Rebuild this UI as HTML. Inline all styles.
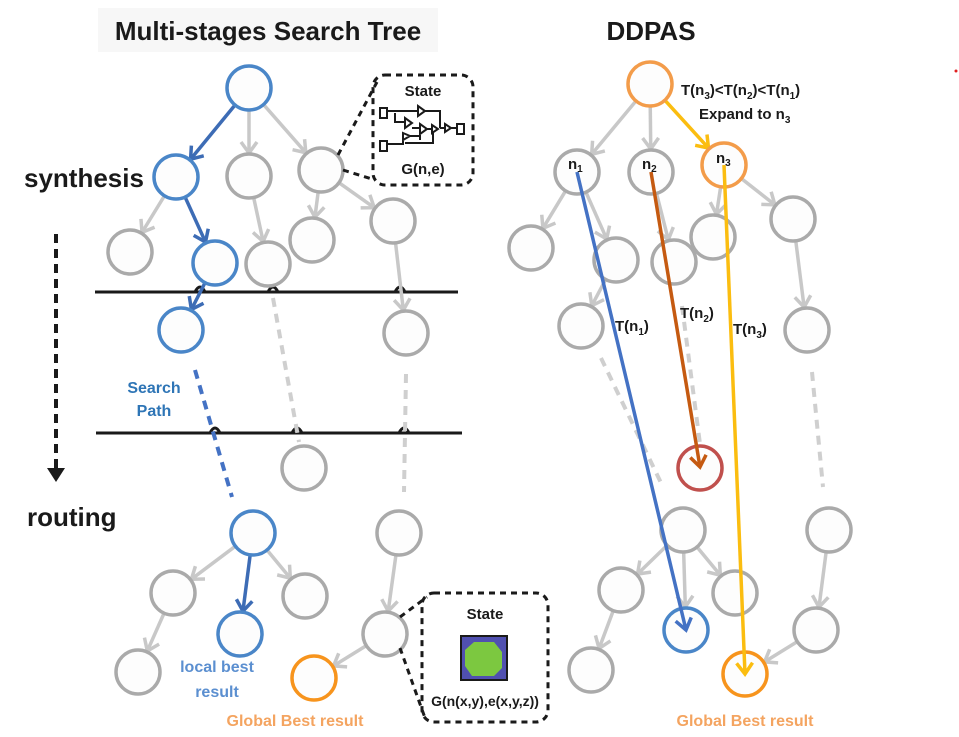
<!DOCTYPE html>
<html><head><meta charset="utf-8"><style>
html,body{margin:0;padding:0;background:#fff;}
svg{display:block;font-family:"Liberation Sans",sans-serif;}
.t{font-weight:bold;}
</style></head><body>
<svg id="s" width="959" height="737" viewBox="0 0 959 737" xmlns="http://www.w3.org/2000/svg">
<rect x="98" y="8" width="340" height="44" fill="#f7f7f7"/>
<text x="268" y="40" text-anchor="middle" class="t" font-size="26" fill="#1a1a1a">Multi-stages Search Tree</text>
<text x="651" y="40" text-anchor="middle" class="t" font-size="26" fill="#1a1a1a">DDPAS</text>
<text x="24" y="187" class="t" font-size="26" fill="#1a1a1a">synthesis</text>
<text x="27" y="526" class="t" font-size="26" fill="#1a1a1a">routing</text>
<circle cx="956" cy="71" r="1.5" fill="#e02020"/>
<!-- vertical dashed arrow -->
<line x1="56" y1="234" x2="56" y2="468" stroke="#1a1a1a" stroke-width="4" stroke-dasharray="9,6"/>
<polygon points="47,468 65,468 56,482" fill="#1a1a1a"/>
<!-- horizontal lines -->
<g stroke="#1a1a1a" stroke-width="3" fill="none">
<line x1="95" y1="292" x2="458" y2="292"/>
<path d="M195,292 Q200,282 205,292 M268,292 Q273,282 278,292 M395,292 Q400,282 405,292"/>
<line x1="96" y1="433" x2="462" y2="433"/>
<path d="M210,433 Q215,423 220,433 M292,433 Q297,423 302,433 M399,433 Q404,423 409,433"/>
</g>
<!-- dashed connectors -->
<g stroke-width="4" fill="none" stroke-dasharray="9,7">
<line x1="195" y1="370" x2="232" y2="497" stroke="#4472c4"/>
<line x1="273" y1="298" x2="299" y2="442" stroke="#cfcfcf"/>
<line x1="406" y1="374" x2="404" y2="492" stroke="#cfcfcf"/>
<line x1="601" y1="358" x2="663" y2="487" stroke="#cfcfcf"/>
<line x1="682" y1="306" x2="700" y2="444" stroke="#cfcfcf"/>
<line x1="812" y1="372" x2="823" y2="487" stroke="#cfcfcf"/>
</g>
<g id="edges"></g>
<g id="nodes"></g>
<g id="long"></g>
<!-- top state box -->
<g fill="none" stroke="#1a1a1a" stroke-width="3" stroke-dasharray="6,5">
<rect x="373" y="75" width="100" height="110" rx="12"/>
<line x1="338" y1="155" x2="377" y2="82"/>
<line x1="343" y1="170" x2="375" y2="180"/>
<rect x="422" y="593" width="126" height="129" rx="12"/>
<line x1="400" y1="617" x2="427" y2="597"/>
<line x1="400" y1="648" x2="425" y2="718"/>
</g>
<text x="423" y="96" text-anchor="middle" class="t" font-size="15" fill="#1a1a1a">State</text>
<text x="423" y="174" text-anchor="middle" class="t" font-size="15" fill="#1a1a1a">G(n,e)</text>
<g stroke="#1a1a1a" stroke-width="2" fill="none">
<rect x="380" y="108" width="7" height="10"/><rect x="380" y="141" width="7" height="10"/><rect x="457" y="124" width="7" height="10"/>
<path d="M387,111 H418 M418,106 L425,111 L418,116 Z M425,111 H440 V128"/>
<path d="M395,113 V122 H405 M405,118 L412,123 L405,128 Z M412,128 H420 M420,124 L427,129 L420,134 Z"/>
<path d="M387,144 H403 V136 M403,133 L410,136 L403,140 Z M410,136 H420 V140 M427,129 H432 M432,125 L438,129 L432,133 Z M440,128 H445 M445,124 L451,128 L445,132 Z M451,128 H457 M433,132 V143 H405"/>
</g>
<text x="485" y="619" text-anchor="middle" class="t" font-size="15" fill="#1a1a1a">State</text>
<rect x="460" y="635" width="48" height="46" fill="#1a1a1a"/>
<rect x="462" y="637" width="44" height="42" fill="#5050b0"/>
<polygon points="474,642 494,642 502,652 502,668 494,676 472,676 465,666 465,650" fill="#7cc840"/>
<text x="485" y="706" text-anchor="middle" class="t" font-size="14" fill="#1a1a1a">G(n(x,y),e(x,y,z))</text>
<!-- labels -->
<text x="154" y="393" text-anchor="middle" class="t" font-size="16" fill="#2e75b6">Search</text>
<text x="154" y="416" text-anchor="middle" class="t" font-size="16" fill="#2e75b6">Path</text>
<text x="217" y="672" text-anchor="middle" class="t" font-size="16" fill="#5b8fd0">local best</text>
<text x="217" y="697" text-anchor="middle" class="t" font-size="16" fill="#5b8fd0">result</text>
<text x="295" y="726" text-anchor="middle" class="t" font-size="16" fill="#f4a460">Global Best result</text>
<text x="745" y="726" text-anchor="middle" class="t" font-size="16" fill="#f4a460">Global Best result</text>
<text x="681" y="95" class="t" font-size="15" fill="#1a1a1a">T(n<tspan font-size="10" dy="4">3</tspan><tspan dy="-4">)&lt;T(n</tspan><tspan font-size="10" dy="4">2</tspan><tspan dy="-4">)&lt;T(n</tspan><tspan font-size="10" dy="4">1</tspan><tspan dy="-4">)</tspan></text>
<text x="699" y="119" class="t" font-size="15" fill="#1a1a1a">Expand to n<tspan font-size="10" dy="4">3</tspan></text>
<text x="568" y="169" class="t" font-size="15" fill="#1a1a1a">n<tspan font-size="10" dy="3">1</tspan></text>
<text x="642" y="169" class="t" font-size="15" fill="#1a1a1a">n<tspan font-size="10" dy="3">2</tspan></text>
<text x="716" y="163" class="t" font-size="15" fill="#1a1a1a">n<tspan font-size="10" dy="3">3</tspan></text>
<text x="615" y="331" class="t" font-size="15" fill="#1a1a1a">T(n<tspan font-size="10" dy="4">1</tspan><tspan dy="-4">)</tspan></text>
<text x="680" y="318" class="t" font-size="15" fill="#1a1a1a">T(n<tspan font-size="10" dy="4">2</tspan><tspan dy="-4">)</tspan></text>
<text x="733" y="334" class="t" font-size="15" fill="#1a1a1a">T(n<tspan font-size="10" dy="4">3</tspan><tspan dy="-4">)</tspan></text>
</svg>
<script>
var NS="http://www.w3.org/2000/svg";
function el(g,t,a){var e=document.createElementNS(NS,t);for(var k in a)e.setAttribute(k,a[k]);document.getElementById(g).appendChild(e);return e;}
var G="#aaaaaa",B="#4a86c8",O="#f39c4a",R="#c0504d",OR="#f7941d";
var N={
lr:[249,88,B],la:[176,177,B],lb:[249,176,G],lc:[321,170,G],
l1:[130,252,G],l2:[215,263,B],l3:[268,264,G],l4:[312,240,G],l5:[393,221,G],
l6:[181,330,B],l7:[406,333,G],l8:[304,468,G],
rr:[253,533,B],rg:[399,533,G],r1:[173,593,G],r2:[240,634,B],r3:[305,596,G],r4:[138,672,G],r5:[385,634,G],r6:[314,678,OR],
Rr:[650,84,O],n1:[577,172,G],n2:[651,172,G],n3:[724,165,O],
m1:[531,248,G],m2:[616,260,G],m3:[674,262,G],m4:[713,237,G],m5:[793,219,G],m6:[581,326,G],m7:[807,330,G],
red:[700,468,R],q1:[683,530,G],q2:[829,530,G],q3:[621,590,G],q4:[735,593,G],q5:[686,630,B],q6:[591,670,G],q7:[816,630,G],q8:[745,674,OR]};
var GC="#c8c8c8",BC="#3d6cb5",YC="#fbbd10";
var E=[["lr","la",BC],["lr","lb",GC],["lr","lc",GC],["la","l1",GC],["la","l2",BC],["lb","l3",GC],["lc","l4",GC],["lc","l5",GC],["l2","l6",BC],["l5","l7",GC],
["rr","r1",GC],["rr","r2",BC],["rr","r3",GC],["r1","r4",GC],["rg","r5",GC],["r5","r6",GC],
["Rr","n1",GC],["Rr","n2",GC],["Rr","n3",YC],["n1","m1",GC],["n1","m2",GC],["n2","m3",GC],["n3","m4",GC],["n3","m5",GC],["m2","m6",GC],["m5","m7",GC],
["q1","q3",GC],["q1","q5",GC],["q1","q4",GC],["q3","q6",GC],["q2","q7",GC],["q7","q8",GC]];
var r=22;
function head(g,x,y,ux,uy,c){var L=11,W=8;var px=-uy,py=ux;
el(g,"polyline",{points:(x-ux*L+px*W)+","+(y-uy*L+py*W)+" "+x+","+y+" "+(x-ux*L-px*W)+","+(y-uy*L-py*W),fill:"none",stroke:c,"stroke-width":3.5,"stroke-linejoin":"miter"});}
E.forEach(function(e){var a=N[e[0]],b=N[e[1]];var dx=b[0]-a[0],dy=b[1]-a[1],d=Math.hypot(dx,dy),ux=dx/d,uy=dy/d;
var x1=a[0]+ux*r,y1=a[1]+uy*r,x2=b[0]-ux*(r+1),y2=b[1]-uy*(r+1);
el("edges","line",{x1:x1,y1:y1,x2:x2,y2:y2,stroke:e[2],"stroke-width":3.5});head("edges",x2,y2,ux,uy,e[2]);});
for(var k in N){var n=N[k];el("nodes","circle",{cx:n[0],cy:n[1],r:r,fill:"#fdfdfd",stroke:n[2],"stroke-width":3.5});}
[[577,172,686,630,"#4472c4"],[651,172,700,467,"#c55a11"],[724,165,745,674,"#fbbd10"]].forEach(function(l){
var dx=l[2]-l[0],dy=l[3]-l[1],d=Math.hypot(dx,dy);el("long","line",{x1:l[0],y1:l[1],x2:l[2],y2:l[3],stroke:l[4],"stroke-width":3.5});head("long",l[2],l[3],dx/d,dy/d,l[4]);});
</script>
</body></html>
